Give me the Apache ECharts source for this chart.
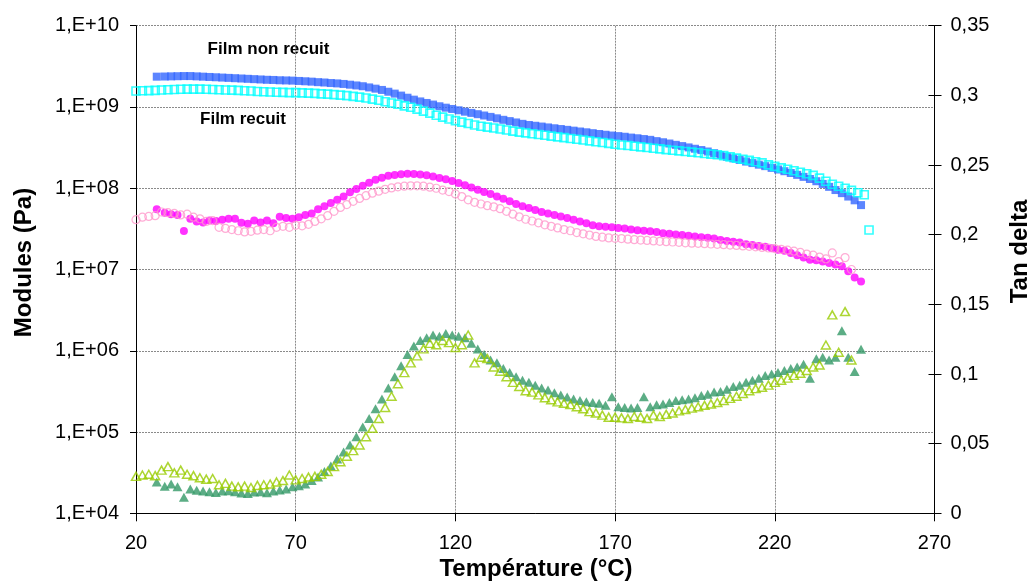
<!DOCTYPE html>
<html>
<head>
<meta charset="utf-8">
<script src="https://cdn.jsdelivr.net/npm/echarts@6/dist/echarts.min.js"></script>
<style>html,body{margin:0;padding:0;background:#fff;}#c{width:1032px;height:581px;}</style>
</head>
<body>
<div id="c"></div>
<script>
// Temperatures (°C)
const tempRecuit = [20,22,24,26,28,30,32,34,36,38,
  40,42,44,46,48,50,52,54,56,58,
  60,62,64,66,68,70,72,74,76,78,
  80,82,84,86,88,90,92,94,96,98,
  100,102,104,106,108,110,112,114,116,118,
  120,122,124,126,128,130,132,134,136,138,
  140,142,144,146,148,150,152,154,156,158,
  160,162,164,166,168,170,172,174,176,178,
  180,182,184,186,188,190,192,194,196,198,
  200,202,204,206,208,210,212,214,216,218,
  220,222,224,226,228,230,232,234,236,238,
  240,242,244,246,248,249.5];
const tempNonRecuit = [26.5,29,31,33,35,37,39,41,43,45,
  47,49,51,53,55,57,59,61,63,65,
  67,69,71,73,75,77,79,81,83,85,
  87,89,91,93,95,97,99,101,103,105,
  107,109,111,113,115,117,119,121,123,125,
  127,129,131,133,135,137,139,141,143,145,
  147,149,151,153,155,157,159,161,163,165,
  167,169,171,173,175,177,179,181,183,185,
  187,189,191,193,195,197,199,201,203,205,
  207,209,211,213,215,217,219,221,223,225,
  227,229,231,233,235,237,239,241,243,245,
  247];

// E' film non recuit (Pa)
const ePrimeNonRecuit = [2.36e9,2.37e9,2.38e9,2.39e9,2.40e9,2.40e9,2.38e9,2.36e9,2.34e9,2.32e9,
  2.30e9,2.28e9,2.26e9,2.24e9,2.22e9,2.20e9,2.18e9,2.16e9,2.15e9,2.13e9,
  2.12e9,2.11e9,2.09e9,2.07e9,2.05e9,2.02e9,2.00e9,1.97e9,1.95e9,1.92e9,
  1.88e9,1.84e9,1.80e9,1.74e9,1.68e9,1.62e9,1.54e9,1.46e9,1.38e9,1.30e9,
  1.23e9,1.17e9,1.12e9,1.07e9,1.02e9,9.8e8,9.45e8,9.1e8,8.75e8,8.45e8,
  8.15e8,7.85e8,7.55e8,7.25e8,6.95e8,6.7e8,6.45e8,6.2e8,6.0e8,5.87e8,
  5.74e8,5.6e8,5.47e8,5.35e8,5.23e8,5.11e8,4.99e8,4.88e8,4.76e8,4.65e8,
  4.55e8,4.45e8,4.38e8,4.3e8,4.2e8,4.12e8,4.03e8,3.94e8,3.8e8,3.68e8,
  3.55e8,3.42e8,3.3e8,3.18e8,3.06e8,2.95e8,2.83e8,2.7e8,2.56e8,2.44e8,
  2.33e8,2.23e8,2.13e8,2.04e8,1.95e8,1.87e8,1.78e8,1.70e8,1.62e8,1.54e8,
  1.46e8,1.38e8,1.30e8,1.22e8,1.13e8,1.04e8,9.5e7,8.7e7,7.9e7,7.1e7,
  6.2e7];
// E' film recuit (Pa)
const ePrimeRecuit = [1.57e9,1.58e9,1.59e9,1.60e9,1.62e9,1.63e9,1.64e9,1.65e9,1.66e9,1.66e9,
  1.66e9,1.65e9,1.64e9,1.63e9,1.62e9,1.61e9,1.60e9,1.58e9,1.57e9,1.55e9,
  1.54e9,1.53e9,1.52e9,1.51e9,1.50e9,1.50e9,1.49e9,1.48e9,1.47e9,1.45e9,
  1.44e9,1.42e9,1.40e9,1.38e9,1.35e9,1.32e9,1.29e9,1.25e9,1.21e9,1.16e9,
  1.12e9,1.08e9,1.03e9,9.9e8,9.4e8,8.9e8,8.4e8,7.9e8,7.5e8,7.1e8,
  6.8e8,6.5e8,6.25e8,6.0e8,5.8e8,5.65e8,5.5e8,5.35e8,5.2e8,5.05e8,
  4.9e8,4.8e8,4.68e8,4.58e8,4.48e8,4.38e8,4.28e8,4.2e8,4.1e8,4.0e8,
  3.92e8,3.83e8,3.74e8,3.65e8,3.56e8,3.48e8,3.41e8,3.35e8,3.29e8,3.23e8,
  3.17e8,3.11e8,3.05e8,2.99e8,2.93e8,2.88e8,2.83e8,2.78e8,2.73e8,2.68e8,
  2.63e8,2.58e8,2.52e8,2.43e8,2.35e8,2.27e8,2.2e8,2.12e8,2.05e8,1.94e8,
  1.86e8,1.78e8,1.71e8,1.64e8,1.57e8,1.51e8,1.44e8,1.33e8,1.22e8,1.12e8,
  1.06e8,1.0e8,9.4e7,8.8e7,8.3e7,3.06e7];
// E'' film non recuit (Pa)
const eSecNonRecuit = [5.5e7,5.0e7,4.8e7,4.7e7,2.98e7,4.2e7,3.9e7,3.8e7,4.0e7,3.95e7,
  4.1e7,4.2e7,4.2e7,3.75e7,3.65e7,4.0e7,3.8e7,4.0e7,3.7e7,4.45e7,
  4.3e7,4.2e7,4.4e7,4.7e7,4.9e7,5.5e7,6.0e7,6.6e7,7.2e7,7.9e7,
  8.9e7,9.8e7,1.07e8,1.17e8,1.27e8,1.35e8,1.42e8,1.46e8,1.49e8,1.51e8,
  1.5e8,1.48e8,1.44e8,1.39e8,1.34e8,1.29e8,1.23e8,1.16e8,1.09e8,1.02e8,
  9.6e7,9.0e7,8.5e7,7.9e7,7.4e7,6.9e7,6.4e7,6.0e7,5.7e7,5.4e7,
  5.1e7,4.9e7,4.7e7,4.5e7,4.3e7,4.1e7,3.9e7,3.7e7,3.5e7,3.4e7,
  3.35e7,3.3e7,3.25e7,3.2e7,3.1e7,3.05e7,3.0e7,2.95e7,2.9e7,2.8e7,
  2.75e7,2.7e7,2.65e7,2.6e7,2.55e7,2.5e7,2.45e7,2.4e7,2.3e7,2.25e7,
  2.2e7,2.15e7,2.05e7,2.0e7,1.95e7,1.9e7,1.82e7,1.75e7,1.7e7,1.6e7,
  1.5e7,1.4e7,1.32e7,1.3e7,1.25e7,1.2e7,1.15e7,1.1e7,9.5e6,8.0e6,
  7.1e6];
// E'' film recuit (Pa)
const eSecRecuit = [4.1e7,4.4e7,4.5e7,4.6e7,5.1e7,5.0e7,4.9e7,4.7e7,4.8e7,4.4e7,
  4.2e7,3.9e7,4.0e7,3.3e7,3.2e7,3.1e7,3.0e7,2.9e7,2.95e7,3.05e7,
  3.1e7,3.0e7,3.3e7,3.4e7,3.3e7,3.5e7,3.45e7,3.6e7,3.9e7,4.2e7,
  4.6e7,5.2e7,5.8e7,6.3e7,6.9e7,7.5e7,8.1e7,8.7e7,9.2e7,9.7e7,
  1.01e8,1.04e8,1.06e8,1.07e8,1.07e8,1.06e8,1.03e8,1.0e8,9.5e7,9.1e7,
  8.5e7,7.9e7,7.2e7,6.7e7,6.4e7,6.1e7,5.9e7,5.6e7,5.2e7,4.8e7,
  4.45e7,4.15e7,3.95e7,3.75e7,3.55e7,3.4e7,3.25e7,3.1e7,3.0e7,2.85e7,
  2.75e7,2.65e7,2.55e7,2.5e7,2.45e7,2.42e7,2.4e7,2.36e7,2.33e7,2.3e7,
  2.28e7,2.25e7,2.22e7,2.2e7,2.18e7,2.16e7,2.13e7,2.11e7,2.1e7,2.08e7,
  2.06e7,2.04e7,2.02e7,2.0e7,1.98e7,1.95e7,1.93e7,1.9e7,1.87e7,1.84e7,
  1.81e7,1.77e7,1.73e7,1.68e7,1.62e7,1.55e7,1.5e7,1.42e7,1.35e7,1.6e7,
  1.25e7,1.4e7,1.0e7,null,null,null];
// Tan delta film non recuit
const tanNonRecuit = [0.0225,0.0195,0.021,0.019,0.0115,0.0175,0.0165,0.016,0.0155,0.015,
  0.016,0.0162,0.0155,0.0145,0.0142,0.0152,0.0155,0.0148,0.016,0.0167,
  0.0175,0.019,0.0198,0.021,0.0235,0.026,0.03,0.034,0.039,0.044,
  0.049,0.055,0.062,0.068,0.075,0.082,0.09,0.098,0.106,0.114,
  0.12,0.124,0.126,0.128,0.127,0.129,0.128,0.127,0.126,0.122,
  0.118,0.114,0.11,0.108,0.104,0.101,0.098,0.0955,0.094,0.092,
  0.09,0.0885,0.0865,0.085,0.0835,0.082,0.081,0.08,0.0795,0.079,
  0.0775,0.0837,0.0765,0.076,0.0755,0.076,0.0837,0.0765,0.078,0.0785,
  0.0795,0.081,0.0815,0.082,0.083,0.0845,0.0855,0.087,0.0875,0.089,
  0.091,0.092,0.094,0.0955,0.097,0.099,0.1,0.101,0.1025,0.104,
  0.105,0.107,0.097,0.111,0.112,0.11,0.112,0.131,0.112,0.1017,
  0.1177];
// Tan delta film recuit
const tanRecuit = [0.0265,0.0275,0.028,0.027,0.031,0.0335,0.029,0.031,0.028,0.027,
  0.0255,0.0245,0.025,0.0205,0.0215,0.0195,0.019,0.0195,0.0185,0.02,
  0.0205,0.021,0.0225,0.0235,0.0275,0.024,0.025,0.026,0.0265,0.028,
  0.03,0.0335,0.037,0.041,0.045,0.049,0.055,0.061,0.068,0.076,
  0.084,0.093,0.101,0.108,0.113,0.118,0.122,0.121,0.124,0.1225,
  0.119,0.121,0.128,0.108,0.112,0.111,0.105,0.102,0.098,0.094,
  0.091,0.088,0.087,0.085,0.083,0.0815,0.08,0.079,0.078,0.0765,
  0.075,0.073,0.072,0.0705,0.069,0.069,0.0685,0.068,0.0695,0.069,
  0.068,0.0705,0.0695,0.071,0.072,0.0735,0.0745,0.0755,0.0765,0.0775,
  0.0785,0.0795,0.081,0.0825,0.084,0.086,0.088,0.0895,0.0905,0.092,
  0.094,0.0955,0.097,0.099,0.1005,0.1025,0.105,0.1065,0.1208,0.1424,
  0.1156,0.1448,0.110,null,null,null];

function pairs(ts, vs) {
  const out = [];
  for (let i = 0; i < ts.length; i++) if (vs[i] != null) out.push([ts[i], vs[i]]);
  return out;
}

const FONT = '"Liberation Sans", Arial, sans-serif';
const chart = echarts.init(document.getElementById('c'), null, {renderer: 'canvas'});
chart.setOption({
  animation: false,
  backgroundColor: '#fff',
  grid: {left: 136, right: 97.5, top: 25.7, bottom: 67.7, containLabel: false},
  xAxis: {
    type: 'value', min: 20, max: 270, interval: 50,
    axisLine: {show: true, lineStyle: {color: '#000', width: 1}},
    axisTick: {show: true, length: 8, lineStyle: {color: '#000'}},
    axisLabel: {fontSize: 20, color: '#000', fontFamily: FONT, margin: 20},
    splitLine: {show: true, lineStyle: {color: '#8a8a8a', type: [2, 1], width: 1}}
  },
  yAxis: [
    {
      type: 'log', logBase: 10, min: 1e4, max: 1e10, splitNumber: 6, position: 'left',
      axisLine: {show: true, lineStyle: {color: '#000', width: 1}},
      axisTick: {show: true, length: 6, lineStyle: {color: '#000'}},
      axisLabel: {fontSize: 20, color: '#000', fontFamily: FONT, margin: 17,
        formatter: v => '1,E+' + String(Math.round(Math.log10(v))).padStart(2, '0')},
      splitLine: {show: true, lineStyle: {color: '#8a8a8a', type: [2, 1], width: 1}},
      minorTick: {show: false}
    },
    {
      type: 'value', min: 0, max: 0.35, interval: 0.05, position: 'right',
      axisLine: {show: true, lineStyle: {color: '#000', width: 1}},
      axisTick: {show: true, length: 7, lineStyle: {color: '#000'}},
      axisLabel: {fontSize: 20, color: '#000', fontFamily: FONT, margin: 16,
        formatter: v => String(Math.round(v * 100) / 100).replace('.', ',')},
      splitLine: {show: false}
    },
    {
      type: 'value', min: 0, max: 0.35, interval: 0.05, position: 'right',
      axisLine: {show: false},
      axisTick: {show: true, inside: true, length: 6, lineStyle: {color: '#000'}},
      axisLabel: {show: false},
      splitLine: {show: false}
    }
  ],
  series: [
    {type: 'scatter', name: "E' non recuit", yAxisIndex: 0, symbol: 'rect', symbolSize: 8,
      itemStyle: {color: '#3366FF'}, data: pairs(tempNonRecuit, ePrimeNonRecuit)},
    {type: 'scatter', name: "E' recuit", yAxisIndex: 0, symbol: 'rect', symbolSize: 8,
      itemStyle: {color: 'rgba(0,0,0,0)', borderColor: '#00FFFF', borderWidth: 1.6},
      data: pairs(tempRecuit, ePrimeRecuit)},
    {type: 'scatter', name: "E'' non recuit", yAxisIndex: 0, symbol: 'circle', symbolSize: 8,
      itemStyle: {color: '#FF00FF'}, data: pairs(tempNonRecuit, eSecNonRecuit)},
    {type: 'scatter', name: "E'' recuit", yAxisIndex: 0, symbol: 'circle', symbolSize: 8,
      itemStyle: {color: 'rgba(0,0,0,0)', borderColor: '#FF99CC', borderWidth: 1.2},
      data: pairs(tempRecuit, eSecRecuit)},
    {type: 'scatter', name: 'tan non recuit', yAxisIndex: 1, symbol: 'triangle', symbolSize: [10, 9],
      itemStyle: {color: '#339966'}, data: pairs(tempNonRecuit, tanNonRecuit)},
    {type: 'scatter', name: 'tan recuit', yAxisIndex: 1, symbol: 'triangle', symbolSize: [9, 8],
      itemStyle: {color: 'rgba(0,0,0,0)', borderColor: '#99CC00', borderWidth: 1.5},
      data: pairs(tempRecuit, tanRecuit)}
  ],
  graphic: [
    {type: 'text', x: 24, y: 262.5, rotation: Math.PI / 2,
      style: {text: 'Modules (Pa)', font: 'bold 24px ' + FONT, fill: '#000', textAlign: 'center', textVerticalAlign: 'middle', align: 'center', verticalAlign: 'middle'}},
    {type: 'text', x: 1020, y: 251.5, rotation: Math.PI / 2,
      style: {text: 'Tan delta', font: 'bold 24px ' + FONT, fill: '#000', textAlign: 'center', textVerticalAlign: 'middle', align: 'center', verticalAlign: 'middle'}},
    {type: 'text', x: 536, y: 569,
      style: {text: 'Température (°C)', font: 'bold 24px ' + FONT, fill: '#000', textAlign: 'center', textVerticalAlign: 'middle', align: 'center', verticalAlign: 'middle'}},
    {type: 'text', x: 268.5, y: 49,
      style: {text: 'Film non recuit', font: 'bold 17px ' + FONT, fill: '#000', textAlign: 'center', textVerticalAlign: 'middle', align: 'center', verticalAlign: 'middle'}},
    {type: 'text', x: 243, y: 119,
      style: {text: 'Film recuit', font: 'bold 17px ' + FONT, fill: '#000', textAlign: 'center', textVerticalAlign: 'middle', align: 'center', verticalAlign: 'middle'}}
  ]
});
</script>
</body>
</html>
